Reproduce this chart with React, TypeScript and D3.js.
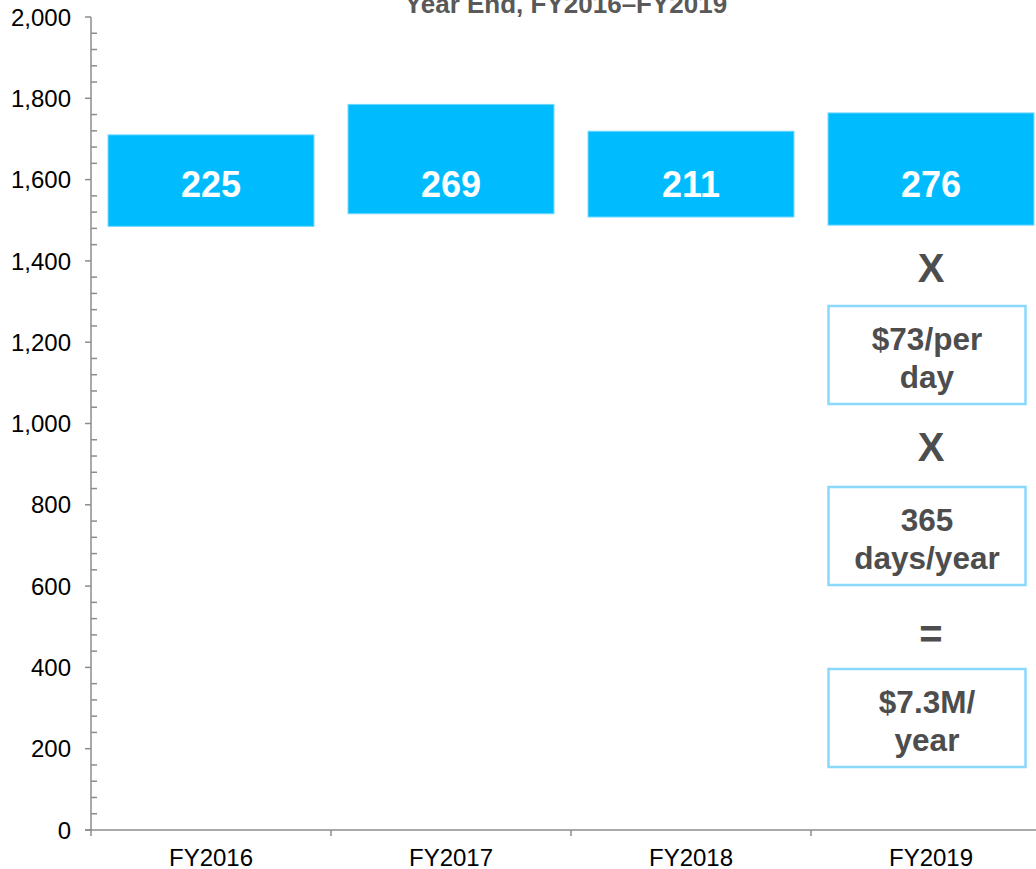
import React from "react";
import * as d3 from "d3";

// chart values
const years = ["FY2016", "FY2017", "FY2018", "FY2019"];
const barBase = [1485, 1516, 1508, 1488];
const barValue = [225, 269, 211, 276];
const yTicks = [0, 200, 400, 600, 800, 1000, 1200, 1400, 1600, 1800, 2000];
const title = "Year End, FY2016\u2013FY2019";

// annotation chain under the FY2019 bar
const operators = ["X", "X", "="];
const boxLines = [
  ["$73/per", "day"],
  ["365", "days/year"],
  ["$7.3M/", "year"],
];

const W = 1036;
const H = 869;
const FONT = "Arial, 'Liberation Sans', sans-serif";
const AXIS = "#8c8c8c";
const BAR = "#00bcff";
const GREY = "#4d4d4d";

export default function App() {
  const x = d3
    .scaleBand<string>()
    .domain(years)
    .range([91, 1051])
    .paddingInner(0.142)
    .paddingOuter(0.071);
  const y = d3.scaleLinear().domain([0, 2000]).range([830, 17]);
  const minor = d3.range(0, 2001, 40).filter((v) => v % 200 !== 0);
  const step = x.step();
  const lastCx = (x("FY2019") ?? 0) + x.bandwidth() / 2;

  // layout of the annotation column (pixel rows)
  const opY = [282, 461, 648];
  const boxTop = [306, 487, 669];
  const boxW = 197;
  const boxH = 98;
  const boxCx = lastCx - 4;

  return (
    <svg
      width={W}
      height={H}
      style={{ position: "absolute", left: 0, top: 0, fontFamily: FONT }}
    >
      <rect width={W} height={H} fill="#fff" />

      {/* title (partly cut at top) */}
      <text x={566} y={13} textAnchor="middle" fontSize={26} fontWeight="bold" fill="#595959">
        {title}
      </text>

      {/* y axis */}
      <line x1={91} x2={91} y1={y(2000)} y2={836} stroke={AXIS} strokeWidth={1.5} />
      {yTicks.map((t) => (
        <g key={`yt-${t}`}>
          <line x1={85} x2={91} y1={y(t)} y2={y(t)} stroke={AXIS} strokeWidth={1.5} />
          <text x={71} y={y(t)} dy="0.36em" textAnchor="end" fontSize={24} fill="#000">
            {d3.format(",")(t)}
          </text>
        </g>
      ))}
      {minor.map((t) => (
        <line key={`ym-${t}`} x1={91} x2={97} y1={y(t)} y2={y(t)} stroke={AXIS} strokeWidth={1.5} />
      ))}

      {/* x axis */}
      <line x1={85} x2={W} y1={y(0)} y2={y(0)} stroke={AXIS} strokeWidth={1.5} />
      {years.map((yr, i) => {
        const left = (x(yr) ?? 0) - (step - x.bandwidth()) / 2;
        return (
          <g key={`xt-${yr}`}>
            {i > 0 && (
              <line x1={left} x2={left} y1={y(0)} y2={y(0) + 6} stroke={AXIS} strokeWidth={1.5} />
            )}
            <text
              x={(x(yr) ?? 0) + x.bandwidth() / 2}
              y={866}
              textAnchor="middle"
              fontSize={24}
              fill="#000"
            >
              {yr}
            </text>
          </g>
        );
      })}

      {/* floating bars */}
      {years.map((yr, i) => {
        const top = y(barBase[i] + barValue[i]);
        const bottom = y(barBase[i]);
        return (
          <g key={`bar-${yr}`}>
            <rect
              x={x(yr)}
              y={top}
              width={x.bandwidth()}
              height={bottom - top}
              fill={BAR}
              stroke="#6fd6ff"
              strokeWidth={1}
            />
            <text
              x={(x(yr) ?? 0) + x.bandwidth() / 2}
              y={197}
              textAnchor="middle"
              fontSize={36}
              fontWeight="bold"
              fill="#fff"
            >
              {barValue[i]}
            </text>
          </g>
        );
      })}

      {/* operators */}
      {operators.map((op, i) => (
        <text
          key={`op-${i}`}
          x={lastCx}
          y={opY[i]}
          textAnchor="middle"
          fontSize={40}
          fontWeight="bold"
          fill={GREY}
        >
          {op}
        </text>
      ))}

      {/* boxes */}
      {boxLines.map((lines, i) => (
        <g key={`box-${i}`}>
          <rect
            x={boxCx - boxW / 2}
            y={boxTop[i]}
            width={boxW}
            height={boxH}
            fill="#fff"
            stroke="#8ad8fb"
            strokeWidth={2.5}
          />
          {lines.map((ln, j) => (
            <text
              key={`bl-${i}-${j}`}
              x={boxCx}
              y={boxTop[i] + 44 + j * 38}
              textAnchor="middle"
              fontSize={31.5}
              fontWeight="bold"
              fill={GREY}
            >
              {ln}
            </text>
          ))}
        </g>
      ))}
    </svg>
  );
}
